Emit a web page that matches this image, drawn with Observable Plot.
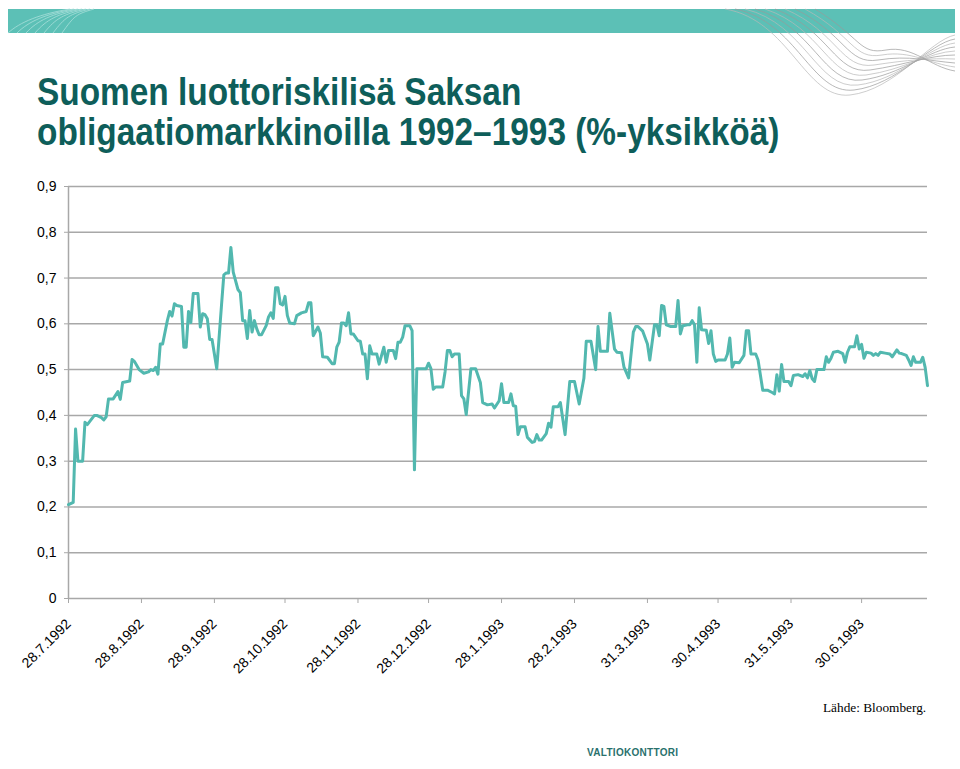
<!DOCTYPE html>
<html>
<head>
<meta charset="utf-8">
<script src="https://cdn.jsdelivr.net/npm/d3@7"></script>
<script src="https://cdn.jsdelivr.net/npm/@observablehq/plot@0.6"></script>
<style>
  body { margin:0; background:#fff; width:960px; height:769px; position:relative; overflow:hidden; font-family:"Liberation Sans", Arial, sans-serif; }
  #banner { position:absolute; left:8px; top:9px; width:947px; height:24px; background:#5cc0b6; }
  #deco { position:absolute; left:0; top:0; }
  #title { position:absolute; left:37px; top:72px; font-size:33.4px; line-height:33.9px; font-weight:bold; color:#0e5e5a; white-space:nowrap; transform:scaleY(1.18); transform-origin:0 0; }
  #chart { position:absolute; left:0; top:176px; }
  #source { position:absolute; left:823px; top:701px; font-family:"Liberation Serif", "Times New Roman", serif; font-size:13.3px; line-height:13px; color:#000; white-space:nowrap; }
  #logo { position:absolute; left:587px; top:748px; font-size:10px; line-height:10px; font-weight:bold; letter-spacing:0.3px; color:#2a716d; white-space:nowrap; }
</style>
</head>
<body>
<div id="banner"></div>
<svg id="deco" width="960" height="110"></svg>
<div id="title">Suomen luottoriskilisä Saksan<br>obligaatiomarkkinoilla 1992–1993 (%-yksikköä)</div>
<div id="chart"></div>
<div id="source">Lähde: Bloomberg.</div>
<div id="logo">VALTIOKONTTORI</div>
<script>
// Days since 28.7.1992 and the spread (percentage points)
const dayOffsets = [0,2,3,4,6,7,8,11,12,14,15,16,17,19,21,22,23,26,27,28,30,32,34,35,36,37,38,39,40,42,43,44,45,46,48,49,50,51,52,53,55,56,57,58,59,60,61,63,65,66,67,68,69,70,72,73,74,75,76,77,78,79,80,81,82,84,85,86,87,88,89,90,91,92,93,94,96,97,99,101,102,103,104,106,107,108,110,112,113,114,115,116,117,118,119,120,121,123,124,125,126,127,128,129,131,132,134,135,136,138,139,140,141,142,143,145,146,147,148,152,153,154,155,156,159,160,161,162,163,164,166,167,168,169,171,173,175,176,178,180,181,183,184,185,187,188,189,190,191,192,194,195,197,198,199,200,201,203,204,205,206,208,209,211,213,215,217,219,220,222,224,225,226,229,230,232,233,235,236,238,240,241,242,244,246,247,249,250,251,252,253,254,256,258,259,260,261,263,264,265,266,267,268,269,271,272,273,274,275,276,279,280,281,282,283,285,287,288,289,290,292,293,295,297,299,300,301,302,303,304,306,307,308,310,312,313,314,315,316,317,318,321,322,323,324,325,327,329,330,331,332,334,335,336,337,338,339,341,342,343,344,345,347,349,350,352,353,354,356,357,358,359,360,362,363,364,365];
const spreadValues = [0.205,0.21,0.37,0.30,0.30,0.385,0.38,0.40,0.40,0.395,0.39,0.397,0.436,0.436,0.452,0.435,0.472,0.475,0.522,0.518,0.50,0.492,0.495,0.50,0.498,0.505,0.49,0.556,0.556,0.607,0.627,0.617,0.644,0.64,0.638,0.549,0.549,0.627,0.603,0.666,0.666,0.593,0.622,0.62,0.611,0.566,0.566,0.502,0.64,0.707,0.711,0.711,0.767,0.713,0.675,0.668,0.607,0.607,0.568,0.629,0.582,0.607,0.589,0.576,0.576,0.596,0.615,0.624,0.612,0.679,0.679,0.644,0.641,0.66,0.618,0.602,0.60,0.618,0.624,0.627,0.646,0.646,0.574,0.593,0.58,0.528,0.527,0.513,0.513,0.549,0.56,0.602,0.602,0.596,0.624,0.578,0.578,0.563,0.562,0.534,0.534,0.48,0.552,0.534,0.534,0.512,0.549,0.516,0.542,0.542,0.524,0.56,0.56,0.571,0.596,0.596,0.585,0.281,0.502,0.502,0.514,0.502,0.457,0.462,0.462,0.495,0.542,0.542,0.528,0.534,0.534,0.443,0.436,0.402,0.502,0.502,0.472,0.428,0.423,0.425,0.416,0.432,0.469,0.428,0.428,0.447,0.421,0.42,0.358,0.375,0.375,0.352,0.341,0.343,0.358,0.346,0.346,0.36,0.383,0.374,0.419,0.419,0.428,0.358,0.474,0.474,0.425,0.481,0.562,0.562,0.50,0.594,0.54,0.54,0.623,0.545,0.538,0.537,0.506,0.482,0.582,0.594,0.594,0.584,0.556,0.521,0.598,0.598,0.574,0.64,0.638,0.598,0.594,0.594,0.651,0.578,0.596,0.598,0.598,0.607,0.598,0.516,0.635,0.587,0.586,0.557,0.585,0.534,0.518,0.521,0.521,0.534,0.569,0.505,0.516,0.515,0.531,0.585,0.585,0.534,0.534,0.521,0.455,0.455,0.45,0.447,0.489,0.453,0.511,0.474,0.474,0.465,0.487,0.489,0.485,0.491,0.482,0.498,0.48,0.474,0.50,0.50,0.528,0.516,0.525,0.538,0.54,0.535,0.516,0.538,0.55,0.55,0.574,0.545,0.555,0.525,0.538,0.536,0.531,0.535,0.531,0.538,0.536,0.534,0.528,0.543,0.536,0.535,0.531,0.521,0.509,0.528,0.516,0.516,0.527,0.505,0.465];
const xTickLabels = ["28.7.1992","28.8.1992","28.9.1992","28.10.1992","28.11.1992","28.12.1992","28.1.1993","28.2.1993","31.3.1993","30.4.1993","31.5.1993","30.6.1993"];
const yTicks = [0,0.1,0.2,0.3,0.4,0.5,0.6,0.7,0.8,0.9];

const parseFi = s => { const [d,m,y] = s.split(".").map(Number); return new Date(Date.UTC(y, m-1, d)); };
const start = parseFi(xTickLabels[0]);
const end = d3.utcDay.offset(start, 365);
const data = dayOffsets.map((d, i) => ({date: d3.utcDay.offset(start, d), value: spreadValues[i]}));
const xTicks = xTickLabels.map(parseFi);
const fmtX = d => `${d.getUTCDate()}.${d.getUTCMonth()+1}.${d.getUTCFullYear()}`;
const fmtY = v => v === 0 ? "0" : v.toFixed(1).replace(".", ",");
const grid = "#a8a8a8";

const chart = Plot.plot({
  width: 960, height: 500,
  marginLeft: 68, marginRight: 33, marginTop: 10, marginBottom: 78,
  style: {fontFamily: "'Liberation Sans', Arial, sans-serif", fontSize: "14px", color: "#000", background: "transparent", overflow: "visible"},
  x: {type: "utc", domain: [start, end]},
  y: {domain: [0, 0.9]},
  marks: [
    Plot.ruleY(yTicks, {stroke: grid, strokeWidth: 1.5}),
    Plot.ruleX([start], {stroke: grid, strokeWidth: 1.5}),
    Plot.axisY({ticks: yTicks, tickFormat: fmtY, tickSize: 4, tickPadding: 8, stroke: grid, fill: "#000", label: null}),
    Plot.axisX({ticks: xTicks, tickFormat: fmtX, tickRotate: -45, tickSize: 5, tickPadding: 18, stroke: grid, fill: "#000", label: null}),
    Plot.line(data, {x: "date", y: "value", stroke: "#52b8af", strokeWidth: 3, strokeLinejoin: "round"})
  ]
});
document.getElementById("chart").appendChild(chart);

// decorative waves of the header band
const deco = d3.select("#deco");
for (let i = 0; i < 7; i++) {
  deco.append("path")
    .attr("d", `M${8 + i*9},33 C${20 + i*9},${22 - i} ${40 + i*6},${14} ${70 + i*4},9`)
    .attr("fill", "none").attr("stroke", "#a9e0da").attr("stroke-width", 0.8);
}
for (let i = 0; i < 10; i++) {
  deco.append("path")
    .attr("d", `M${725 + i*10},9 C${790 + i*8},${20 + i*2} ${805 + i*6},${100 - i*5} ${850 + i*4},${95 - i*5} S${930},${40 + i*3} ${955},${35 + i*4}`)
    .attr("fill", "none").attr("stroke", i % 2 ? "#9a9a9a" : "#b8b8b8").attr("stroke-width", 0.7);
}
</script>
</body>
</html>
